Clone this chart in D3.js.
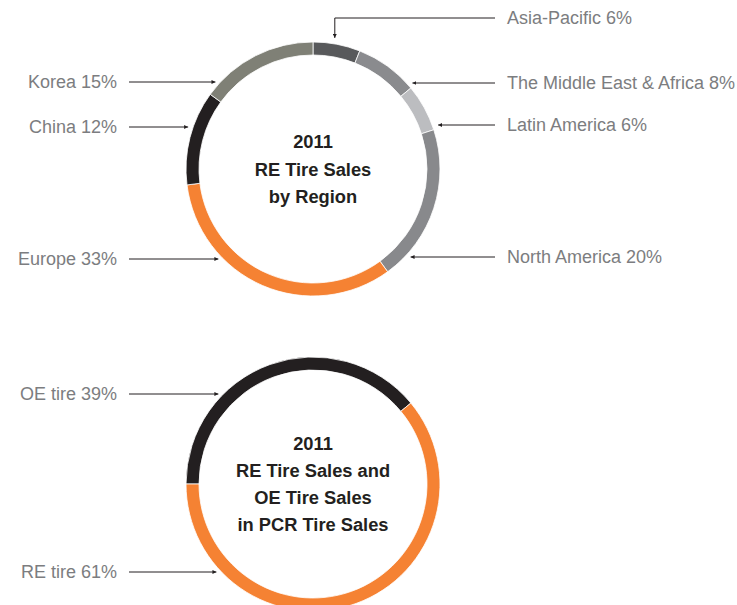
<!DOCTYPE html>
<html>
<head>
<meta charset="utf-8">
<script src="https://cdn.jsdelivr.net/npm/d3@7"></script>
<style>
  html, body { margin: 0; padding: 0; background: #ffffff; }
  svg { display: block; }
</style>
</head>
<body>
<svg id="chart" width="737" height="605"></svg>
<script>
// RE tire sales by region, 2011 (percent)
const regionNames  = ["Asia-Pacific", "The Middle East & Africa", "Latin America", "North America", "Europe", "China", "Korea"];
const regionShares = [6, 8, 6, 20, 33, 12, 15];
const regionColors = ["#58595b", "#8a8b8e", "#bcbdc0", "#88898c", "#f58233", "#231f20", "#7f8076"];

// RE vs OE share of PCR tire sales, 2011 (percent)
const pcrNames  = ["OE tire", "RE tire"];
const pcrShares = [39, 61];
const pcrColors = ["#231f20", "#f58233"];

const regionTitle = ["2011", "RE Tire Sales", "by Region"];
const pcrTitle    = ["2011", "RE Tire Sales and", "OE Tire Sales", "in PCR Tire Sales"];

// Label placement: which side the callout sits on and the row it uses
const regionLabelSide = ["top", "right", "right", "right", "left", "left", "left"];
const regionLabelY    = [18, 83, 125, 257, 259, 127, 82];
const pcrLabelSide    = ["left", "left"];
const pcrLabelY       = [394, 572];

const outerR = 127, innerR = 114;
const leftTextX = 117, leftLineX = 129;
const rightTextX = 507, rightLineX = 495;

const svg = d3.select("#chart");

svg.append("defs").append("marker")
  .attr("id", "tip")
  .attr("viewBox", "0 0 6 6")
  .attr("refX", 6).attr("refY", 3)
  .attr("markerWidth", 4).attr("markerHeight", 4)
  .attr("markerUnits", "userSpaceOnUse")
  .attr("orient", "auto")
  .append("path")
  .attr("d", "M0,0 L6,3 L0,6 Z")
  .attr("fill", "#231f20");

function donut(cfg) {
  const { cx, cy, names, shares, colors, title, sides, labelY, startAngle } = cfg;
  const g = svg.append("g").attr("transform", `translate(${cx},${cy})`);

  const pie = d3.pie()
    .sort(null)
    .value(d => d)
    .startAngle(startAngle)
    .endAngle(startAngle + 2 * Math.PI);
  const arcs = pie(shares);
  const arc = d3.arc().innerRadius(innerR).outerRadius(outerR);

  g.selectAll("path.slice")
    .data(arcs)
    .join("path")
    .attr("class", "slice")
    .attr("d", arc)
    .attr("fill", (d, i) => colors[i])
    .attr("stroke", "#ffffff")
    .attr("stroke-width", 0.8);

  // centre title
  const lineGap = title.length > 3 ? 27.3 : 27.7;
  const firstBase = 6.5 - (title.length - 1) * lineGap / 2;
  g.append("text")
    .attr("text-anchor", "middle")
    .attr("font-family", "'Liberation Sans', Arial, Helvetica, sans-serif")
    .attr("font-weight", "bold")
    .attr("font-size", 18.3)
    .attr("fill", "#231f20")
    .selectAll("tspan")
    .data(title)
    .join("tspan")
    .attr("x", 0)
    .attr("y", (d, i) => firstBase + i * lineGap)
    .text(d => d);

  // callouts
  arcs.forEach((a, i) => {
    const side = sides[i];
    const ly = labelY[i];
    const label = `${names[i]} ${shares[i]}%`;
    const txt = svg.append("text")
      .attr("font-family", "'Liberation Sans', Arial, Helvetica, sans-serif")
      .attr("font-size", 18)
      .attr("fill", "#7c7d80")
      .attr("dy", "0.35em")
      .attr("y", ly)
      .text(label);

    if (side === "top") {
      const mid = (a.startAngle + a.endAngle) / 2;
      const lx = cx + outerR * Math.sin(mid) - 2;
      const topY = cy - Math.sqrt(outerR * outerR - (lx - cx) * (lx - cx));
      svg.append("path")
        .attr("d", `M${rightLineX},${ly} H${lx} V${topY - 6}`)
        .attr("fill", "none")
        .attr("stroke", "#231f20")
        .attr("stroke-width", 1)
        .attr("marker-end", "url(#tip)");
      txt.attr("x", rightTextX).attr("text-anchor", "start");
    } else {
      const dy = ly - cy;
      const dx = Math.sqrt(outerR * outerR - dy * dy);
      if (side === "left") {
        svg.append("line")
          .attr("x1", leftLineX).attr("y1", ly)
          .attr("x2", cx - dx - 5).attr("y2", ly)
          .attr("stroke", "#231f20").attr("stroke-width", 1)
          .attr("marker-end", "url(#tip)");
        txt.attr("x", leftTextX).attr("text-anchor", "end");
      } else {
        svg.append("line")
          .attr("x1", rightLineX).attr("y1", ly)
          .attr("x2", cx + dx + 6).attr("y2", ly)
          .attr("stroke", "#231f20").attr("stroke-width", 1)
          .attr("marker-end", "url(#tip)");
        txt.attr("x", rightTextX).attr("text-anchor", "start");
      }
    }
  });
}

donut({
  cx: 313, cy: 169,
  names: regionNames, shares: regionShares, colors: regionColors,
  title: regionTitle, sides: regionLabelSide, labelY: regionLabelY,
  startAngle: 0
});

donut({
  cx: 313, cy: 484,
  names: pcrNames, shares: pcrShares, colors: pcrColors,
  title: pcrTitle, sides: pcrLabelSide, labelY: pcrLabelY,
  startAngle: -Math.PI / 2
});
</script>
</body>
</html>
